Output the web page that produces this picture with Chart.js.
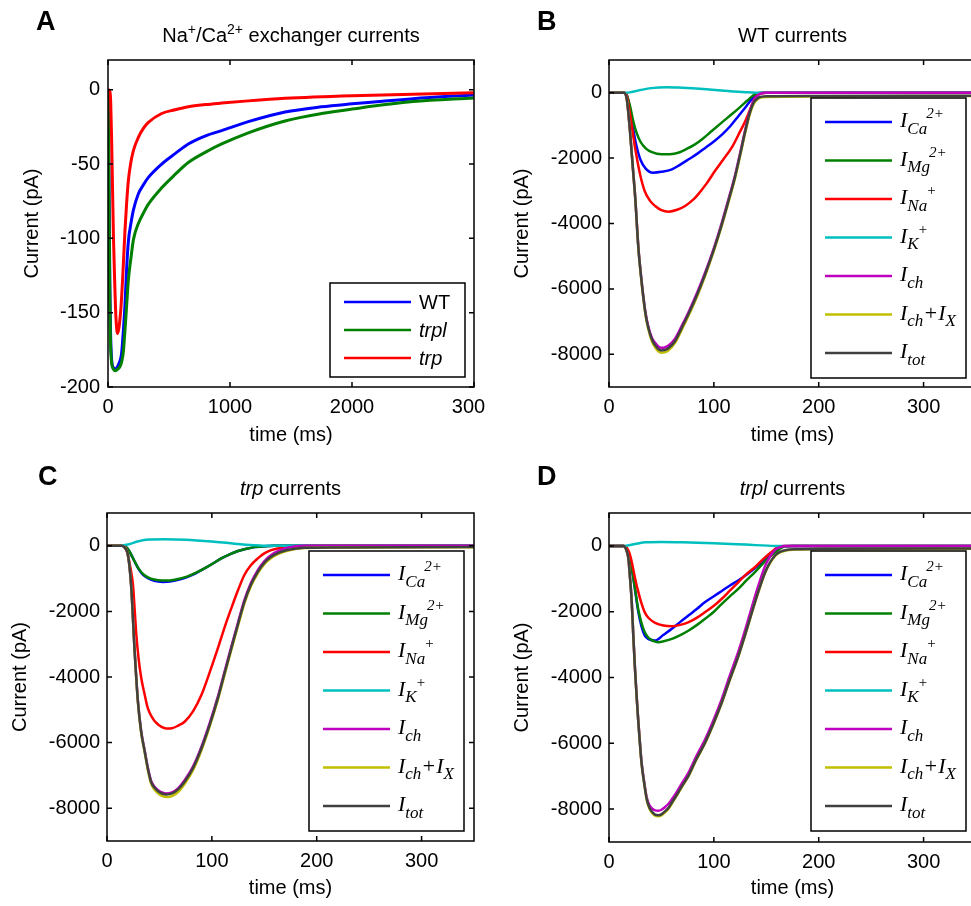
<!DOCTYPE html>
<html>
<head>
<meta charset="utf-8">
<title>Exchanger and channel currents</title>
<script src="https://cdn.jsdelivr.net/npm/chart.js@4.4.1/dist/chart.umd.min.js"></script>
<style>
  html, body { margin: 0; padding: 0; background: #fff; }
  body { width: 971px; height: 906px; overflow: hidden; position: relative; }
  canvas { position: absolute; }
</style>
</head>
<body>
<canvas id="painelA" width="485" height="453" style="left:0;top:0"></canvas>
<canvas id="painelB" width="500" height="453" style="left:485px;top:0"></canvas>
<canvas id="painelC" width="485" height="453" style="left:0;top:453px"></canvas>
<canvas id="painelD" width="500" height="453" style="left:485px;top:453px"></canvas>
<script>
Chart.defaults.font.family = '"Liberation Sans", Arial, sans-serif'
Chart.defaults.color = '#000'

// tick labels
var xTicksA = [0, 1000, 2000, 3000]
var yTicksA = [0, -50, -100, -150, -200]
var xTicks = [0, 100, 200, 300]
var yTicks = [0, -2000, -4000, -6000, -8000]

// ---- A: Na/Ca exchanger current (pA) vs time (ms) ----
var tA_WT = [0, 5, 10, 15, 20, 30, 45, 60, 80, 100, 112, 126, 139, 153, 167, 190, 208, 249, 290, 331, 440, 550, 658, 800, 932, 1150, 1451, 1750, 2000, 2500, 3000]
var iA_WT = [0, -30, -80, -130, -160, -182, -187, -188, -186, -182, -177, -162, -145, -120, -102, -89, -81, -70, -64, -59, -50, -43, -36.5, -31, -27.5, -21.5, -15, -11.5, -9.5, -6, -3.5]
var tA_trpl = [0, 5, 10, 15, 20, 30, 45, 60, 80, 100, 115, 126, 139, 153, 167, 190, 208, 249, 290, 331, 440, 550, 658, 800, 932, 1150, 1451, 1750, 2000, 2500, 3000]
var iA_trpl = [0, -35, -90, -140, -168, -184, -188, -189, -188, -186, -182, -176, -162, -145, -128, -112, -101, -90, -83, -77, -66, -57, -49, -42, -36.5, -29, -21, -16, -13, -8, -5.5]
var tA_trp = [0, 15, 22, 30, 38, 45, 55, 65, 78, 90, 105, 120, 139, 153, 167, 185, 208, 249, 290, 331, 440, 550, 658, 800, 932, 1150, 1451, 2000, 2500, 3000]
var iA_trp = [0, -1, -8, -35, -70, -100, -130, -153, -164, -160, -148, -127, -95, -76, -61, -50, -41, -32, -26, -22, -16, -13.5, -11.5, -10, -9, -7.5, -5.8, -4, -3, -2]

// ---- B: WT currents ----
var tB_Ca = [0, 14, 17, 20, 23, 26, 30, 35, 42, 50, 60, 68, 76, 84, 92, 100, 108, 116, 123.5, 130, 136, 142, 148, 350]
var iB_Ca = [0, 0, -80, -500, -1100, -1600, -2050, -2320, -2446, -2420, -2343, -2200, -2037, -1870, -1682, -1490, -1273, -1010, -713, -450, -203, -40, 0, 0]
var tB_Mg = [0, 14, 17, 20, 23, 26, 30, 35, 41, 50, 58, 66, 74, 82, 90, 98, 108, 117, 125, 132, 138, 143, 150, 350]
var iB_Mg = [0, 0, -80, -400, -850, -1200, -1500, -1700, -1820, -1885, -1880, -1835, -1720, -1580, -1390, -1171, -900, -661, -440, -240, -70, -10, 0, 0]
var tB_Na = [0, 14, 17, 20, 23, 26, 30, 34, 39, 44, 50, 57, 65, 72.6, 80, 85, 93, 101, 109, 117, 124, 130, 135, 139.4, 144, 150, 350]
var iB_Na = [0, 0, -100, -650, -1300, -1900, -2550, -3006, -3300, -3465, -3590, -3638, -3580, -3465, -3280, -3108, -2780, -2394, -2040, -1682, -1250, -866, -480, -153, -30, 0, 0]
var tB_K = [0, 15, 20, 30, 40, 55, 70, 90, 110, 130, 140, 350]
var iB_K = [0, 0, 10, 80, 140, 170, 150, 110, 60, 15, 0, 0]
var tB_ch = [0, 14, 17, 20, 23, 25, 28, 30.5, 32.8, 35, 37.5, 41, 44, 47, 50, 53, 56, 63, 70, 75.7, 84, 91.7, 100, 107.6, 114, 120, 125, 130, 134, 138, 142.6, 146, 150, 200, 350]
var iB_ch = [0, 0, -200, -1171, -2390, -3200, -4720, -5580, -6240, -6760, -7150, -7500, -7650, -7760, -7800, -7790, -7750, -7520, -7090, -6720, -6120, -5500, -4750, -3970, -3250, -2550, -1850, -1120, -600, -240, -60, -15, 0, 0, 0]
var iB_chX = [0, 0, -200, -1171, -2410, -3220, -4760, -5630, -6300, -6840, -7230, -7610, -7790, -7910, -7950, -7940, -7900, -7650, -7210, -6830, -6230, -5600, -4840, -4060, -3340, -2640, -1940, -1210, -690, -340, -180, -140, -130, -115, -100]
var iB_tot = [0, 0, -200, -1171, -2400, -3210, -4740, -5600, -6270, -6800, -7187, -7550, -7720, -7840, -7880, -7870, -7830, -7594, -7150, -6777, -6180, -5553, -4800, -4024, -3300, -2600, -1900, -1171, -650, -300, -150, -120, -110, -100, -90]

// ---- C: trp currents ----
var tC_CaMg = [0, 14, 18, 21, 24, 27, 30, 34, 39, 45, 53, 60, 68, 77, 85, 93, 101, 109, 117, 125, 133, 140.6, 150, 160, 350]
var iC_Ca = [0, 0, -40, -150, -330, -520, -700, -870, -990, -1070, -1100, -1090, -1040, -945, -830, -690, -540, -385, -260, -160, -90, -40, -10, 0, 0]
var iC_Mg = [0, 0, -40, -150, -330, -515, -690, -850, -960, -1030, -1060, -1055, -1010, -930, -820, -690, -540, -385, -260, -160, -90, -40, -10, 0, 0]
var tC_Na = [0, 15, 18, 20, 22.5, 24.8, 26.5, 28, 30, 32.7, 36, 39, 43, 47, 52, 56.5, 62, 68, 74, 82, 90, 98, 105.7, 112, 118.5, 125, 131, 137, 143.8, 150, 156.6, 168, 180, 200, 350]
var iC_Na = [0, 0, -80, -300, -700, -1200, -2000, -2720, -3400, -4040, -4550, -4960, -5230, -5400, -5520, -5570, -5560, -5480, -5365, -5050, -4550, -3850, -3130, -2500, -1910, -1350, -890, -600, -384, -230, -130, -50, -20, 0, 0]
var tC_K = [0, 10, 20, 30, 40, 55, 75, 100, 120, 140, 155, 350]
var iC_K = [0, 0, 40, 140, 190, 200, 185, 130, 70, 20, 0, 0]
var tC_ch = [0, 14, 17, 20, 23, 26.4, 29.5, 32.5, 36, 39, 42, 46, 51, 56.5, 62, 68, 74, 82, 90, 98, 105.7, 112, 118.5, 125, 131, 137, 143.8, 150, 156.6, 164, 172, 188, 220, 350]
var iC_ch = [0, 0, -60, -284, -1200, -3230, -4740, -5630, -6250, -6770, -7160, -7370, -7500, -7550, -7520, -7390, -7150, -6730, -6130, -5400, -4600, -3850, -3080, -2330, -1660, -1150, -740, -470, -280, -150, -60, 0, 0, 0]
var iC_chX = [0, 0, -60, -284, -1200, -3240, -4780, -5680, -6310, -6840, -7240, -7460, -7600, -7660, -7630, -7500, -7260, -6840, -6240, -5500, -4700, -3950, -3180, -2430, -1760, -1250, -840, -560, -370, -240, -150, -70, -55, -45]
var iC_tot = [0, 0, -60, -284, -1200, -3230, -4755, -5650, -6280, -6800, -7195, -7400, -7530, -7580, -7550, -7420, -7195, -6780, -6180, -5450, -4650, -3900, -3130, -2380, -1710, -1200, -793, -520, -336, -210, -130, -60, -50, -40]

// ---- D: trpl currents ----
var tD_Ca = [0, 14, 17, 19.5, 21.7, 24, 26, 28, 31, 34, 37, 40, 44, 52, 60, 68, 76, 84, 91.7, 100, 107.6, 115, 123.5, 133, 142.6, 150, 155, 160, 164, 170, 175, 350]
var iD_Ca = [0, 0, -100, -350, -690, -1150, -1600, -2012, -2450, -2720, -2820, -2860, -2875, -2700, -2520, -2310, -2110, -1910, -1707, -1530, -1370, -1210, -1045, -830, -588, -380, -232, -120, -50, -10, 0, 0]
var tD_Mg = [0, 14, 17, 19.5, 21.7, 24, 26, 28, 31, 34, 37, 40, 44, 47, 52, 60, 68, 76, 84, 91.7, 100, 107.6, 115, 123.5, 131, 139.4, 147, 155, 160, 164, 170, 175, 350]
var iD_Mg = [0, 0, -100, -350, -690, -1130, -1550, -1950, -2350, -2620, -2770, -2850, -2910, -2926, -2900, -2825, -2710, -2570, -2400, -2214, -2000, -1760, -1540, -1300, -1050, -790, -530, -284, -160, -60, -10, 0, 0]
var tD_Na = [0, 14, 17, 19.5, 21.7, 24, 26, 28, 31, 34, 38, 44, 52, 60, 68, 76, 84, 91.7, 100, 107.6, 115, 123.5, 131, 139.4, 147, 155, 161, 166, 170, 350]
var iD_Na = [0, 0, -60, -220, -488, -850, -1150, -1403, -1750, -2012, -2200, -2337, -2420, -2440, -2400, -2318, -2180, -2012, -1820, -1606, -1370, -1098, -860, -640, -400, -183, -40, -5, 0, 0]
var tD_K = [0, 15, 25, 35, 50, 70, 100, 130, 159, 350]
var iD_K = [0, 0, 60, 110, 120, 110, 80, 40, 0, 0]
var tD_ch = [0, 14, 16.5, 18.5, 20, 21.7, 23.2, 24.8, 26.4, 28, 29.5, 31, 33.5, 36, 38.5, 41, 44, 47, 50, 53, 57, 60, 65, 70, 75.7, 83, 91.7, 100, 107.6, 115, 123.5, 130, 136.3, 142.5, 149, 154, 158.5, 163, 168, 180, 200, 350]
var iD_ch = [0, 0, -120, -384, -950, -1707, -2750, -3740, -4590, -5350, -5980, -6560, -7160, -7650, -7880, -7980, -8040, -8050, -8020, -7950, -7830, -7700, -7460, -7190, -6900, -6410, -5880, -5270, -4650, -3960, -3200, -2540, -1850, -1200, -600, -300, -120, -40, 0, 0, 0, 0]
var iD_chX = [0, 0, -120, -384, -950, -1707, -2760, -3750, -4620, -5380, -6020, -6600, -7220, -7720, -7980, -8110, -8200, -8220, -8190, -8110, -7980, -7830, -7570, -7300, -7010, -6520, -5990, -5390, -4770, -4100, -3350, -2700, -2030, -1400, -810, -500, -300, -200, -145, -110, -100, -90]
var iD_tot = [0, 0, -120, -384, -950, -1707, -2750, -3740, -4600, -5365, -6000, -6585, -7200, -7700, -7950, -8080, -8170, -8190, -8160, -8080, -7950, -7800, -7550, -7280, -6990, -6500, -5975, -5370, -4755, -4080, -3333, -2680, -2012, -1380, -793, -480, -284, -180, -130, -100, -90, -80]

var cores = ['#0000ff', '#008000', '#ff0000', '#00bfbf', '#bf00bf', '#bfbf00', '#404040']

// legend labels, [text, style]
var rotulosIons = [
    [['I', 'n'], ['Ca', 'sub'], ['2+', 'sup']],
    [['I', 'n'], ['Mg', 'sub'], ['2+', 'sup']],
    [['I', 'n'], ['Na', 'sub'], ['+', 'sup']],
    [['I', 'n'], ['K', 'sub'], ['+', 'sup']],
    [['I', 'n'], ['ch', 'sub']],
    [['I', 'n'], ['ch', 'sub'], ['+I', 'n'], ['X', 'sub']],
    [['I', 'n'], ['tot', 'sub']]
]
var rotulosA = [[['WT', 'n']], [['trpl', 'i']], [['trp', 'i']]]

var estiloSerif = {
    n: { font: 'italic 22px "Liberation Serif", serif', dy: 0 },
    sub: { font: 'italic 17px "Liberation Serif", serif', dy: 6.5 },
    sup: { font: 'italic 15px "Liberation Serif", serif', dy: -9, kern: -1 }
}
var estiloSans = {
    n: { font: '20px "Liberation Sans", Arial, sans-serif', dy: 0 },
    i: { font: 'italic 20px "Liberation Sans", Arial, sans-serif', dy: 0 },
    sup: { font: '14px "Liberation Sans", Arial, sans-serif', dy: -8 }
}

function textoRico(ctx, segs, x, y, estilos, align) {
    var w = 0
    segs.forEach(function (s) {
        var e = estilos[s[1]]
        ctx.font = e.font
        w += ctx.measureText(s[0]).width + (e.kern || 0)
    })
    var cx = align === 'center' ? x - w / 2 : x
    ctx.textAlign = 'left'
    ctx.textBaseline = 'alphabetic'
    segs.forEach(function (s) {
        var e = estilos[s[1]]
        ctx.font = e.font
        cx += e.kern || 0
        ctx.fillText(s[0], cx, y + e.dy)
        cx += ctx.measureText(s[0]).width
    })
}

// box, inward ticks, legend, title and panel letter
var painelDecor = {
    id: 'painel',
    afterDatasetsDraw: function (chart, args, opts) {
        var ctx = chart.ctx, a = chart.chartArea
        var xs = chart.scales.x, ys = chart.scales.y
        ctx.save()
        ctx.strokeStyle = '#000'
        ctx.lineWidth = 1.5
        ctx.strokeRect(a.left, a.top, a.right - a.left, a.bottom - a.top)
        ctx.beginPath()
        xs.ticks.forEach(function (t) {
            var px = xs.getPixelForValue(t.value)
            ctx.moveTo(px, a.bottom); ctx.lineTo(px, a.bottom - 5)
            ctx.moveTo(px, a.top); ctx.lineTo(px, a.top + 5)
        })
        ys.ticks.forEach(function (t) {
            var py = ys.getPixelForValue(t.value)
            ctx.moveTo(a.left, py); ctx.lineTo(a.left + 5, py)
            ctx.moveTo(a.right, py); ctx.lineTo(a.right - 5, py)
        })
        ctx.stroke()

        // legend
        var ds = chart.data.datasets
        var bx, by, bw, bh, y0, passo, estilo, rotulos, dyTexto
        if (opts.legenda === 'A') {
            bw = 135; bh = 94; bx = a.right - 144; by = a.bottom - 104
            y0 = 19; passo = 28; estilo = estiloSans; rotulos = rotulosA; dyTexto = 7
        } else {
            bw = 155; bh = 280; bx = a.right - 165; by = a.top + 38
            y0 = 24; passo = 38.5; estilo = estiloSerif; rotulos = rotulosIons; dyTexto = 5
        }
        ctx.fillStyle = '#fff'
        ctx.fillRect(bx, by, bw, bh)
        ctx.strokeRect(bx, by, bw, bh)
        ds.forEach(function (d, i) {
            var ly = by + y0 + i * passo
            ctx.strokeStyle = d.borderColor
            ctx.lineWidth = 2.5
            ctx.beginPath(); ctx.moveTo(bx + 14, ly); ctx.lineTo(bx + 81, ly); ctx.stroke()
            ctx.fillStyle = '#000'
            textoRico(ctx, rotulos[i], bx + 89, ly + dyTexto, estilo, 'left')
        })

        // title and letter
        ctx.fillStyle = '#000'
        textoRico(ctx, opts.titulo, (a.left + a.right) / 2, 42, estiloSans, 'center')
        ctx.font = 'bold 27px "Liberation Sans", Arial, sans-serif'
        ctx.textAlign = 'left'
        ctx.fillText(opts.letra, opts.letraX, opts.letraY)
        ctx.restore()
    }
}

function pontos(t, v) {
    return t.map(function (x, i) { return { x: x, y: v[i] } })
}

function serie(rotulo, t, v, cor, ordem, largura) {
    return {
        label: rotulo,
        data: pontos(t, v),
        borderColor: cor,
        borderWidth: largura,
        pointRadius: 0,
        cubicInterpolationMode: 'monotone',
        fill: false,
        order: ordem
    }
}

function criarPainel(id, datasets, cfg) {
    var ctx = document.getElementById(id).getContext('2d')
    return new Chart(ctx, {
        type: 'line',
        data: { datasets: datasets },
        plugins: [painelDecor],
        options: {
            responsive: false,
            animation: false,
            devicePixelRatio: 1,
            layout: { padding: { top: 60, right: cfg.padDir, left: 0, bottom: 0 } },
            scales: {
                x: {
                    type: 'linear',
                    min: 0,
                    max: cfg.xMax,
                    grid: { display: false, drawTicks: false },
                    border: { display: false },
                    ticks: { padding: 8, font: { size: 20 }, callback: function (v) { return String(v) } },
                    afterBuildTicks: function (s) { s.ticks = cfg.xTicks.map(function (v) { return { value: v } }) },
                    afterFit: function (s) { s.height = cfg.xAlt; s.paddingLeft = 0; s.paddingRight = 0 },
                    title: { display: true, text: 'time (ms)', font: { size: 20 }, padding: { top: 0, bottom: 6 } }
                },
                y: {
                    min: cfg.yMin,
                    max: cfg.yMax,
                    grid: { display: false, drawTicks: false },
                    border: { display: false },
                    ticks: { padding: cfg.yPad, font: { size: 20 }, callback: function (v) { return String(v) } },
                    afterBuildTicks: function (s) { s.ticks = cfg.yTicks.map(function (v) { return { value: v } }) },
                    afterFit: function (s) { s.width = cfg.yLarg; s.paddingTop = 0; s.paddingBottom = 0 },
                    title: { display: true, text: 'Current (pA)', font: { size: 20 }, padding: { top: cfg.tituloY, bottom: 0 } }
                }
            },
            plugins: {
                legend: { display: false },
                tooltip: { enabled: false },
                painel: { legenda: cfg.legenda, titulo: cfg.titulo, letra: cfg.letra, letraX: cfg.letraX, letraY: cfg.letraY }
            }
        }
    })
}

function seriesIons(tCa, iCa, tMg, iMg, tNa, iNa, tK, iK, tCh, iCh, iChX, iTot) {
    var lista = [
        ['I Ca2+', tCa, iCa], ['I Mg2+', tMg, iMg], ['I Na+', tNa, iNa], ['I K+', tK, iK],
        ['I ch', tCh, iCh], ['I ch + I X', tCh, iChX], ['I tot', tCh, iTot]
    ]
    return lista.map(function (s, i) { return serie(s[0], s[1], s[2], cores[i], 6 - i, 2.5) })
}

var graficoA = criarPainel('painelA', [
    serie('WT', tA_WT, iA_WT, cores[0], 2, 3),
    serie('trpl', tA_trpl, iA_trpl, cores[1], 1, 3),
    serie('trp', tA_trp, iA_trp, cores[2], 0, 3)
], {
    xMax: 3000, yMin: -200, yMax: 20, xTicks: xTicksA, yTicks: yTicksA,
    padDir: 11, xAlt: 66, yLarg: 108, yPad: 8, tituloY: 20.5, legenda: 'A',
    titulo: [['Na', 'n'], ['+', 'sup'], ['/Ca', 'n'], ['2+', 'sup'], [' exchanger currents', 'n']],
    letra: 'A', letraX: 36, letraY: 30
})

var graficoB = criarPainel('painelB',
    seriesIons(tB_Ca, iB_Ca, tB_Mg, iB_Mg, tB_Na, iB_Na, tB_K, iB_K, tB_ch, iB_ch, iB_chX, iB_tot), {
    xMax: 350, yMin: -9000, yMax: 1000, xTicks: xTicks, yTicks: yTicks,
    padDir: 9, xAlt: 66, yLarg: 124, yPad: 7, tituloY: 25, legenda: 'ions',
    titulo: [['WT currents', 'n']],
    letra: 'B', letraX: 52, letraY: 30
})

var graficoC = criarPainel('painelC',
    seriesIons(tC_CaMg, iC_Ca, tC_CaMg, iC_Mg, tC_Na, iC_Na, tC_K, iC_K, tC_ch, iC_ch, iC_chX, iC_tot), {
    xMax: 350, yMin: -9000, yMax: 1000, xTicks: xTicks, yTicks: yTicks,
    padDir: 11, xAlt: 65, yLarg: 107, yPad: 7, tituloY: 8, legenda: 'ions',
    titulo: [['trp', 'i'], [' currents', 'n']],
    letra: 'C', letraX: 38, letraY: 32
})

var graficoD = criarPainel('painelD',
    seriesIons(tD_Ca, iD_Ca, tD_Mg, iD_Mg, tD_Na, iD_Na, tD_K, iD_K, tD_ch, iD_ch, iD_chX, iD_tot), {
    xMax: 350, yMin: -9000, yMax: 1000, xTicks: xTicks, yTicks: yTicks,
    padDir: 9, xAlt: 64, yLarg: 124, yPad: 7, tituloY: 25, legenda: 'ions',
    titulo: [['trpl', 'i'], [' currents', 'n']],
    letra: 'D', letraX: 52, letraY: 32
})
</script>
</body>
</html>
